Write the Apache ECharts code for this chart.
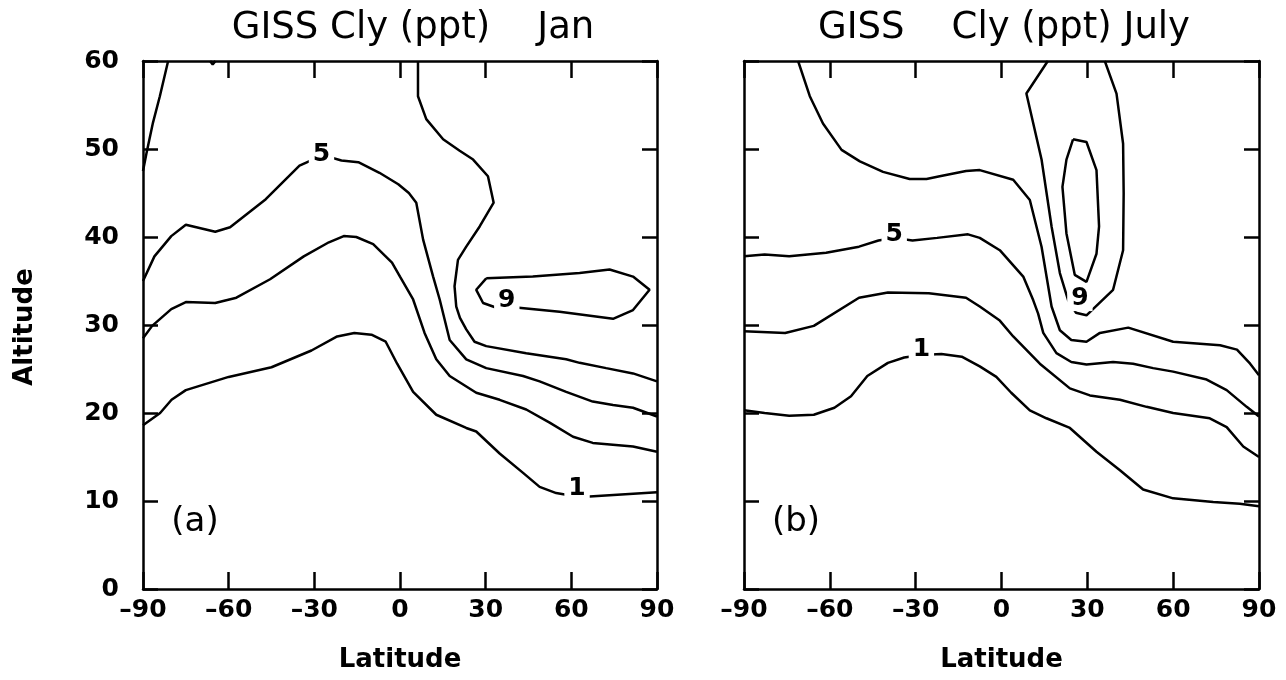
<!DOCTYPE html>
<html><head><meta charset="utf-8">
<script src="https://cdn.jsdelivr.net/npm/echarts@6/dist/echarts.min.js"></script>
<style>html,body{margin:0;padding:0;background:#fff}#c{width:1286px;height:680px}</style>
</head><body><div id="c"></div><script>
// ---- data (latitude, altitude) ----
const latTicks = [-90, -60, -30, 0, 30, 60, 90];
const altTicks = [0, 10, 20, 30, 40, 50, 60];
const janTitle = 'GISS Cly (ppt)    Jan';
const julTitle = 'GISS    Cly (ppt) July';

// Panel (a) January contours
const janLevel1 = [[-90,18.6],[-84,20],[-80,21.5],[-75,22.6],[-60,24.1],[-45,25.2],[-31,27.1],[-22,28.7],[-16,29.1],[-10,28.9],[-5,28.1],[-1,25.6],[4.6,22.4],[12.7,19.8],[23.2,18.3],[26.7,17.9],[34.9,15.4],[43.1,13.2],[48.9,11.6],[54.7,10.9],[58.2,10.7],[62,10.6],[66.4,10.5],[90,11.0]];
const janLevel3 = [[-90,28.5],[-86.8,29.9],[-80.1,31.8],[-75,32.6],[-64.7,32.5],[-57.3,33.1],[-45.5,35.2],[-33.7,37.8],[-24.9,39.4],[-19.7,40.1],[-15.3,40.0],[-9.4,39.2],[-2.8,37.1],[0,35.5],[4.6,32.9],[8.6,29.1],[12.7,26.1],[17.4,24.2],[26.7,22.3],[34.9,21.5],[44.2,20.4],[52.4,18.9],[60.6,17.3],[67.5,16.6],[81.6,16.2],[90,15.6]];
const janLevel5 = [[-90,35.0],[-86,37.8],[-80.1,40.1],[-75,41.4],[-64.7,40.6],[-59.5,41.1],[-47,44.3],[-35.2,48.1],[-27,49.3],[-20.5,48.7],[-14.6,48.5],[-7.2,47.3],[-0.6,46.0],[3.1,45.0],[5.7,43.9],[8.1,39.7],[11.6,35.5],[13.9,32.9],[17.4,28.3],[23.2,26.1],[30.2,25.1],[43.1,24.2],[48.9,23.6],[58.2,22.4],[67.5,21.3],[74.6,20.9],[81.6,20.6],[90,19.6]];
const janLevel7 = [[6.3,60],[6.3,56.0],[9.2,53.4],[15.1,51.1],[20.9,49.8],[25.6,48.8],[30.8,46.9],[32.8,43.9],[27.9,41.2],[23.2,38.9],[20.3,37.4],[19.1,34.4],[19.7,32.1],[21,30.8],[23.2,29.5],[26.1,28.1],[30.2,27.6],[44.2,26.8],[58.2,26.1],[62.9,25.7],[72.2,25.1],[81.6,24.5],[90,23.6]];
const janLevel7Pole = [[-90,47.5],[-88.8,49.5],[-86.5,53.0],[-84.1,56.0],[-81.2,60]];
const janLevel7Blip = [[-66.5,60],[-65.6,59.6],[-64.6,60]];
const janLevel9 = [[30.2,35.3],[26.7,34.0],[29.1,32.5],[34.3,31.9],[40.7,32.0],[55.9,31.5],[74.6,30.7],[81.6,31.7],[87.4,34.0],[81.6,35.5],[73.4,36.3],[62.9,35.9],[46.5,35.5],[30.2,35.3]];
const janLabels = [[-27.5,49.4,'5'],[37.4,32.8,'9'],[62,11.4,'1']];

// Panel (b) July contours
const julLevel1 = [[-90,20.3],[-82.8,20.0],[-74.2,19.7],[-65.6,19.8],[-58.4,20.6],[-52.6,21.9],[-46.9,24.2],[-39.7,25.7],[-34,26.3],[-28,26.6],[-21,26.7],[-13.9,26.4],[-7.6,25.3],[-1.8,24.1],[3.4,22.3],[9.9,20.3],[15.7,19.4],[23.9,18.3],[33.2,15.6],[41.4,13.5],[49.5,11.3],[60,10.3],[74,9.9],[83.3,9.7],[90,9.4]];
const julLevel3 = [[-90,29.3],[-75.6,29.1],[-65.6,29.9],[-49.8,33.1],[-39.7,33.7],[-25.4,33.6],[-12.4,33.1],[-7.6,32.1],[-0.6,30.5],[4.1,28.7],[13.4,25.6],[23.9,22.8],[30.9,22.0],[41.4,21.5],[50.7,20.7],[60,20.0],[72.8,19.4],[78.7,18.4],[84.5,16.2],[90,15.0]];
const julLevel5 = [[-90,37.8],[-82.8,38.0],[-74.2,37.8],[-61.3,38.2],[-49.8,38.9],[-43,39.6],[-37.5,39.9],[-31.1,39.6],[-22.5,39.9],[-11.7,40.3],[-7.6,39.9],[-0.6,38.5],[7.6,35.5],[11.1,32.8],[12.8,31.3],[14.6,29.1],[19.2,26.8],[24.4,25.8],[29.7,25.5],[39,25.8],[46,25.6],[53,25.1],[60,24.7],[71.7,23.8],[78.7,22.6],[85.7,20.7],[90,19.6]];
const julLevel7 = [[-71.1,60],[-67,56],[-62.4,52.9],[-55.9,49.9],[-49.5,48.6],[-41.4,47.4],[-32.1,46.6],[-26.2,46.6],[-21.6,46.9],[-12.4,47.5],[-7.6,47.6],[4.1,46.5],[9.9,44.2],[14,38.9],[17.5,32.1],[20.4,29.4],[24.4,28.3],[29.7,28.1],[34.4,29.1],[44.3,29.7],[60,28.1],[76.4,27.7],[82.3,27.2],[86.9,25.6],[90,24.3]];
const julLevel9 = [[16.2,60],[8.7,56.3],[14,48.8],[17.5,41.2],[20.4,35.9],[23.3,32.8],[26,31.4],[29.7,31.1],[39,34],[42.5,38.5],[42.7,45],[42.5,50.6],[40.2,56.3],[36.1,60]];
const julLevel11 = [[25,51.1],[29.7,50.8],[33.2,47.6],[34.1,41.2],[33.2,38.1],[29.7,34.9],[25.6,35.7],[22.7,40.4],[21.3,45.7],[22.7,48.8],[25,51.1]];
const julLabels = [[-37.5,40.3,'5'],[27.4,33.0,'9'],[-28,27.2,'1']];

// ---- chart ----
const FONT = 'DejaVu Sans';
const fmtLat = v => (v < 0 ? '\u2013' + Math.abs(v) : String(v));
const grids = [
  {left: 143, top: 61, width: 514, height: 528},
  {left: 744, top: 61, width: 515, height: 528}
];
const axisLine = {show: true, onZero: false, lineStyle: {color: '#000', width: 2.5}};
const xAxes = [], yAxes = [];
grids.forEach((g, i) => {
  const base = {type: 'value', gridIndex: i, min: latTicks[0], max: latTicks[latTicks.length-1], interval: 30,
    splitLine: {show: false}, axisLine: axisLine,
    axisTick: {show: true, inside: true, length: 17, lineStyle: {color: '#000', width: 2.5}}};
  xAxes.push(Object.assign({}, base, {position: 'bottom',
    axisLabel: {show: true, color: '#000', fontFamily: FONT, fontWeight: 'bold', fontSize: 25, margin: 9, formatter: fmtLat},
    name: 'Latitude', nameLocation: 'middle', nameGap: 58,
    nameTextStyle: {color: '#000', fontFamily: FONT, fontWeight: 'bold', fontSize: 26}}));
  xAxes.push(Object.assign({}, base, {position: 'top', axisLabel: {show: false}}));
  const ybase = {type: 'value', gridIndex: i, min: altTicks[0], max: altTicks[altTicks.length-1], interval: 10,
    splitLine: {show: false}, axisLine: axisLine,
    axisTick: {show: true, inside: true, length: 15, lineStyle: {color: '#000', width: 2.5}}};
  yAxes.push(Object.assign({}, ybase, {position: 'left',
    axisLabel: {show: i === 0, color: '#000', fontFamily: FONT, fontWeight: 'bold', fontSize: 25, margin: 24}}));
  yAxes.push(Object.assign({}, ybase, {position: 'right', axisLabel: {show: false}}));
});

function contour(data, gi) {
  return {type: 'line', data: data, xAxisIndex: gi*2, yAxisIndex: gi*2, showSymbol: false, symbol: 'none',
    lineStyle: {color: '#000', width: 2.5}, animation: false, silent: true, z: 2, clip: true};
}
function labels(data, gi) {
  return {type: 'scatter', data: data, xAxisIndex: gi*2, yAxisIndex: gi*2, symbolSize: 0,
    itemStyle: {color: '#fff', opacity: 1}, animation: false, silent: true, z: 5,
    label: {show: true, position: 'inside', formatter: p => p.value[2], color: '#000', opacity: 1,
      textBorderWidth: 0, fontFamily: FONT, fontWeight: 'bold', fontSize: 25, backgroundColor: '#fff', padding: [0, 4]}};
}

const series = [
  contour(janLevel1, 0), contour(janLevel3, 0), contour(janLevel5, 0), contour(janLevel7, 0),
  contour(janLevel7Pole, 0), contour(janLevel7Blip, 0), contour(janLevel9, 0), labels(janLabels, 0),
  contour(julLevel1, 1), contour(julLevel3, 1), contour(julLevel5, 1), contour(julLevel7, 1),
  contour(julLevel9, 1), contour(julLevel11, 1), labels(julLabels, 1)
];

const chart = echarts.init(document.getElementById('c'), null, {renderer: 'canvas'});
chart.setOption({
  backgroundColor: '#fff',
  animation: false,
  title: [
    {text: janTitle, left: 408, top: 5, textAlign: 'center', textStyle: {color: '#000', fontFamily: FONT, fontSize: 37, fontWeight: 'normal'}},
    {text: julTitle, left: 999, top: 5, textAlign: 'center', textStyle: {color: '#000', fontFamily: FONT, fontSize: 37, fontWeight: 'normal'}},
    {text: '(a)', left: 190, top: 500, textAlign: 'center', textStyle: {color: '#000', fontFamily: FONT, fontSize: 34, fontWeight: 'normal'}},
    {text: '(b)', left: 791, top: 500, textAlign: 'center', textStyle: {color: '#000', fontFamily: FONT, fontSize: 34, fontWeight: 'normal'}}
  ],
  graphic: [{type: 'text', x: 25, y: 327, rotation: Math.PI/2,
    style: {text: 'Altitude', fill: '#000', font: 'bold 26px "DejaVu Sans"', textAlign: 'center', textVerticalAlign: 'middle'}}],
  grid: grids,
  xAxis: xAxes,
  yAxis: yAxes,
  series: series
});
</script></body></html>
